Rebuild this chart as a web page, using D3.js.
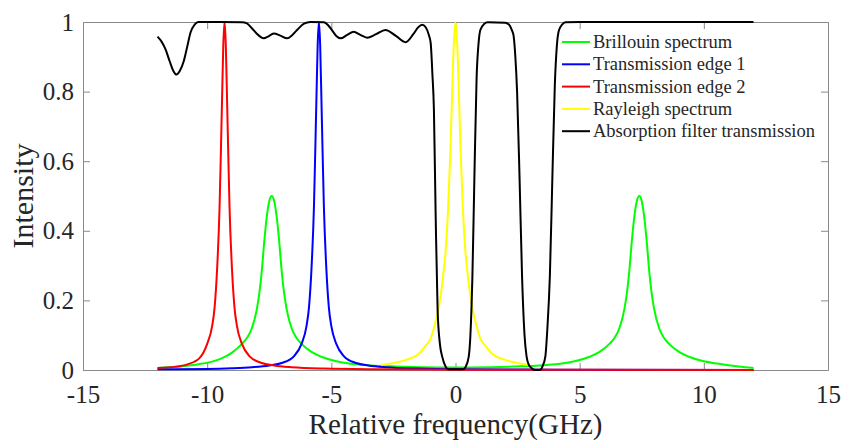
<!DOCTYPE html>
<html>
<head>
<meta charset="utf-8">
<script src="https://cdn.jsdelivr.net/npm/d3@7"></script>
<style>
  body { margin: 0; background: #fff; }
  text { font-family: "Liberation Serif", "Times New Roman", serif; fill: #262626; }
</style>
</head>
<body>
<div id="chart"></div>
<script>
// values: [frequency GHz, intensity]
const brillouin = [[-12.0,0.006],[-11.0,0.011],[-10.4,0.016],[-9.8,0.024],[-9.4,0.034],[-9.0,0.050],[-8.6,0.075],[-8.4,0.092],
  [-8.2,0.12],[-8.0,0.175],[-7.9,0.22],[-7.8,0.285],[-7.7,0.37],[-7.6,0.44],[-7.5,0.485],[-7.4,0.5],[-7.3,0.485],[-7.2,0.44],
  [-7.1,0.37],[-7.0,0.285],[-6.9,0.22],[-6.8,0.175],[-6.6,0.12],[-6.4,0.092],[-6.2,0.075],[-5.8,0.052],[-5.4,0.038],[-4.8,0.025],
  [-4.2,0.018],[-3.4,0.013],[-2.4,0.010],[-1.4,0.008],[0,0.007],[1.4,0.008],[2.4,0.010],[3.4,0.013],[4.2,0.018],[4.8,0.025],
  [5.4,0.038],[5.8,0.052],[6.2,0.075],[6.4,0.092],[6.6,0.12],[6.8,0.175],[6.9,0.22],[7.0,0.285],[7.1,0.37],[7.2,0.44],[7.3,0.485],
  [7.4,0.5],[7.5,0.485],[7.6,0.44],[7.7,0.37],[7.8,0.285],[7.9,0.22],[8.0,0.175],[8.2,0.12],[8.4,0.092],[8.6,0.075],[9.0,0.052],
  [9.4,0.038],[10.0,0.025],[10.6,0.018],[11.4,0.010],[12.0,0.006]];

const edge1 = [[-12,0.002],[-10,0.003],[-9,0.005],[-8.2,0.008],[-7.5,0.013],[-7.0,0.02],[-6.5,0.04],[-6.2,0.075],[-6.0,0.126],
  [-5.9,0.18],[-5.8,0.29],[-5.7,0.47],[-5.65,0.62],[-5.6,0.78],[-5.55,0.935],[-5.5,1.0],[-5.45,0.935],[-5.4,0.78],[-5.35,0.62],
  [-5.3,0.47],[-5.2,0.29],[-5.1,0.18],[-5.0,0.126],[-4.8,0.075],[-4.5,0.04],[-4.0,0.02],[-3.5,0.013],[-2.8,0.008],[-1.5,0.004],
  [0,0.002],[4,0.001],[12,0.0]];

const edge2 = [[-12.0,0.006],[-11.3,0.009],[-10.8,0.016],[-10.3,0.035],[-10.0,0.075],[-9.8,0.126],[-9.7,0.18],[-9.6,0.29],
  [-9.5,0.47],[-9.45,0.62],[-9.4,0.78],[-9.35,0.935],[-9.3,1.0],[-9.25,0.935],[-9.2,0.78],[-9.15,0.62],[-9.1,0.47],[-9.0,0.29],
  [-8.9,0.18],[-8.8,0.126],[-8.6,0.075],[-8.3,0.04],[-7.8,0.02],[-7.3,0.013],[-6.6,0.008],[-5.3,0.004],[-3.3,0.002],[0,0.001],[12,0.0]];

const rayleigh = [[-3.0,0.014],[-2.5,0.02],[-2.0,0.029],[-1.5,0.045],[-1.2,0.07],[-1.0,0.09],[-0.8,0.14],[-0.65,0.19],[-0.5,0.27],
  [-0.4,0.34],[-0.3,0.46],[-0.2,0.64],[-0.1,0.88],[-0.05,0.96],[0,1.0],[0.05,0.96],[0.1,0.88],[0.2,0.64],[0.3,0.46],[0.4,0.34],
  [0.5,0.27],[0.65,0.19],[0.8,0.14],[1.0,0.09],[1.2,0.07],[1.5,0.045],[2.0,0.029],[2.5,0.02],[3.0,0.014]];

const absorption = [[-12.0,0.958],[-11.85,0.945],[-11.68,0.922],[-11.5,0.885],[-11.35,0.858],[-11.24,0.849],[-11.1,0.86],
  [-10.94,0.888],[-10.8,0.93],[-10.67,0.97],[-10.5,0.993],[-10.35,1.0],[-9.5,1.0],[-8.6,0.999],[-8.4,0.996],[-8.2,0.982],
  [-8.0,0.966],[-7.85,0.957],[-7.72,0.953],[-7.55,0.958],[-7.32,0.967],[-7.05,0.961],[-6.78,0.953],[-6.58,0.962],[-6.38,0.977],
  [-6.1,0.995],[-5.84,1.0],[-5.3,0.999],[-5.12,0.99],[-4.97,0.976],[-4.8,0.96],[-4.63,0.953],[-4.36,0.963],[-4.1,0.972],
  [-3.83,0.963],[-3.56,0.955],[-3.2,0.965],[-2.82,0.977],[-2.4,0.96],[-2.01,0.942],[-1.7,0.965],[-1.5,0.985],[-1.34,0.992],
  [-1.2,0.985],[-1.07,0.962],[-1.0,0.94],[-0.93,0.85],[-0.87,0.75],[-0.8,0.45],[-0.72,0.17],[-0.62,0.07],[-0.53,0.037],
  [-0.4,0.01],[-0.3,0.002],[0.3,0.002],[0.4,0.008],[0.53,0.037],[0.6,0.1],[0.68,0.267],[0.76,0.55],[0.85,0.84],[0.93,0.94],
  [1.0,0.977],[1.15,0.994],[1.3,0.999],[2.0,0.998],[2.15,0.993],[2.28,0.975],[2.34,0.96],[2.41,0.9],[2.48,0.8],[2.58,0.55],
  [2.68,0.27],[2.78,0.1],[2.86,0.04],[2.95,0.015],[3.09,0.004],[3.2,0.0],[3.4,0.0],[3.5,0.01],[3.62,0.04],[3.7,0.12],[3.8,0.27],
  [3.9,0.55],[4.0,0.82],[4.08,0.93],[4.16,0.975],[4.3,0.993],[4.43,0.999],[5,1.0],[12,1.0]];

const seriesNames = ["Brillouin spectrum", "Transmission edge 1", "Transmission edge 2", "Rayleigh spectrum", "Absorption filter transmission"];
const seriesColors = ["#00ff00", "#0000ff", "#ff0000", "#ffff00", "#000000"];
const seriesData = [brillouin, edge1, edge2, rayleigh, absorption];
const xTicks = [-15, -10, -5, 0, 5, 10, 15];
const yTicks = [0, 0.2, 0.4, 0.6, 0.8, 1];

const width = 843, height = 442;
const plotLeft = 83, plotRight = 828, plotTop = 22, plotBottom = 370;

const svg = d3.select("#chart").append("svg")
    .attr("width", width)
    .attr("height", height);

const x = d3.scaleLinear().domain([-15, 15]).range([plotLeft, plotRight]);
const y = d3.scaleLinear().domain([0, 1]).range([plotBottom, plotTop]);

// box with inward ticks on all four sides
const axisColor = "#8a8a8a";
function styleAxis(g) {
  g.selectAll("path.domain").attr("stroke", axisColor).attr("fill", "none");
  g.selectAll(".tick line").attr("stroke", axisColor);
  g.selectAll("text").style("font-size", "25px").attr("fill", "#262626");
}

svg.append("g")
    .attr("transform", `translate(0,${plotBottom})`)
    .call(d3.axisBottom(x).tickValues(xTicks).tickSizeInner(-7).tickSizeOuter(0).tickPadding(15).tickFormat(d => String(d)))
    .call(styleAxis);

svg.append("g")
    .attr("transform", `translate(0,${plotTop})`)
    .call(d3.axisTop(x).tickValues(xTicks).tickSizeInner(-7).tickSizeOuter(0).tickFormat(""))
    .call(styleAxis);

svg.append("g")
    .attr("transform", `translate(${plotLeft},0)`)
    .call(d3.axisLeft(y).tickValues(yTicks).tickSizeInner(-7).tickSizeOuter(0).tickPadding(9).tickFormat(d => String(d)))
    .call(styleAxis);

svg.append("g")
    .attr("transform", `translate(${plotRight},0)`)
    .call(d3.axisRight(y).tickValues(yTicks).tickSizeInner(-7).tickSizeOuter(0).tickFormat(""))
    .call(styleAxis);

const line = d3.line()
    .x(d => x(d[0]))
    .y(d => y(d[1]))
    .curve(d3.curveMonotoneX);

seriesData.forEach((data, i) => {
  svg.append("path")
      .datum(data)
      .attr("fill", "none")
      .attr("stroke", seriesColors[i])
      .attr("stroke-width", 2)
      .attr("stroke-linejoin", "round")
      .attr("d", line);
});

// axis titles
svg.append("text")
    .attr("x", (plotLeft + plotRight) / 2)
    .attr("y", 434)
    .attr("text-anchor", "middle")
    .style("font-size", "29px")
    .text("Relative frequency(GHz)");

svg.append("text")
    .attr("transform", `translate(33,${(plotTop + plotBottom) / 2}) rotate(-90)`)
    .attr("text-anchor", "middle")
    .style("font-size", "30px")
    .text("Intensity");

// legend
const legend = svg.append("g");
seriesNames.forEach((name, i) => {
  const ly = 42 + i * 22.3;
  legend.append("line")
      .attr("x1", 562).attr("x2", 590)
      .attr("y1", ly).attr("y2", ly)
      .attr("stroke", seriesColors[i])
      .attr("stroke-width", 2);
  legend.append("text")
      .attr("x", 593)
      .attr("y", ly)
      .attr("dy", "0.33em")
      .style("font-size", "18.5px")
      .text(name);
});
</script>
</body>
</html>
